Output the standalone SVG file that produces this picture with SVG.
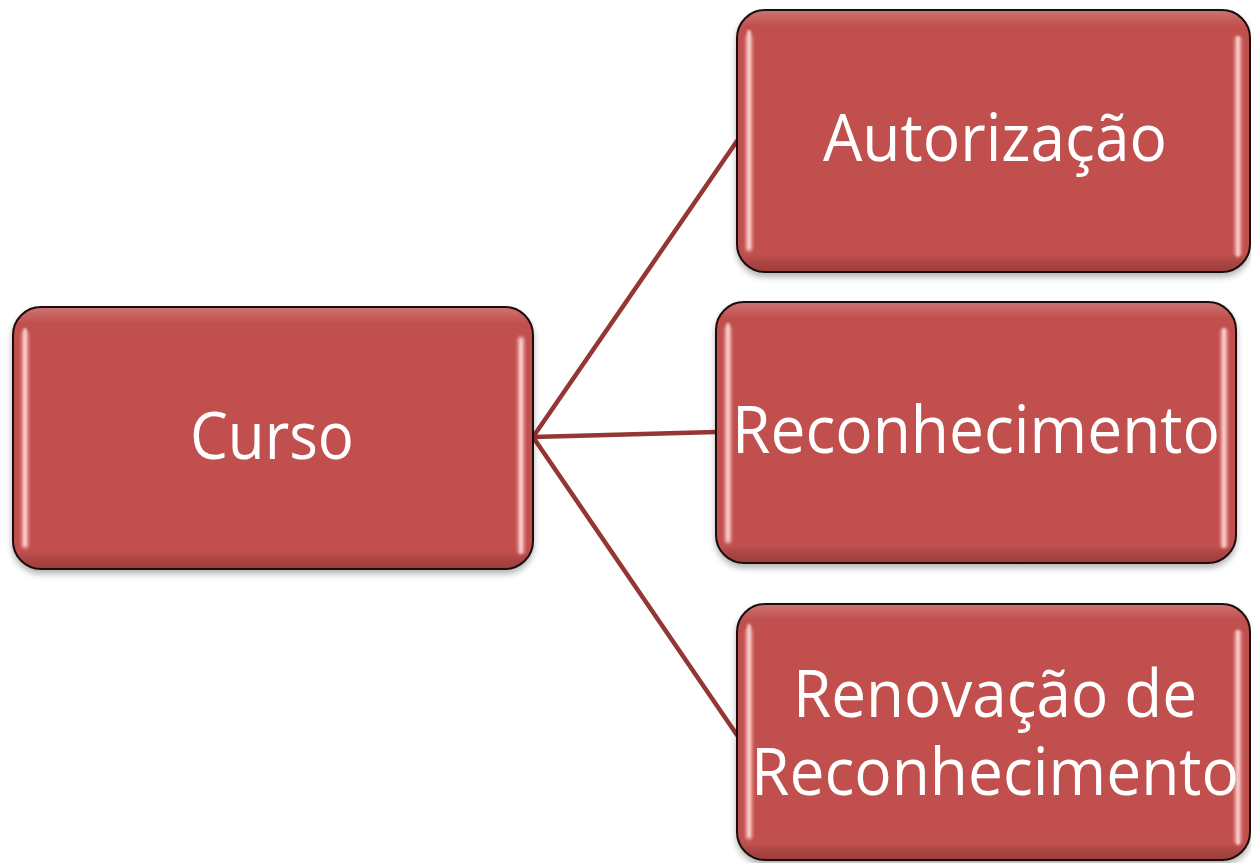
<svg xmlns="http://www.w3.org/2000/svg" width="1251" height="863" viewBox="0 0 1251 863">
<defs>
<style>
.box{fill:#C0504D;stroke:#1a0a0a;stroke-width:2}
.hl{fill:none;stroke:#ffd8d6;stroke-width:4;stroke-linecap:round;opacity:0.85}
.hl2{fill:none;stroke:#e89a98;stroke-width:9;stroke-linecap:round;opacity:0.6}
.lbl{fill:#ffffff;font-family:"Open Sans","Noto Sans",sans-serif;font-size:66px;text-anchor:middle}
.conn{stroke:#943634;stroke-width:4.5;fill:none;stroke-linecap:round}
</style>
<linearGradient id="rim" x1="0" y1="0" x2="0" y2="1">
<stop offset="0" stop-color="#ffffff" stop-opacity="0.2"/>
<stop offset="0.06" stop-color="#ffffff" stop-opacity="0"/>
<stop offset="0.94" stop-color="#000000" stop-opacity="0"/>
<stop offset="1" stop-color="#5a1a18" stop-opacity="0.3"/>
</linearGradient>
<filter id="sh" x="-5%" y="-5%" width="110%" height="115%">
<feGaussianBlur in="SourceAlpha" stdDeviation="3"/>
<feOffset dx="0" dy="4" result="b"/>
<feComponentTransfer><feFuncA type="linear" slope="0.3"/></feComponentTransfer>
<feMerge><feMergeNode/><feMergeNode in="SourceGraphic"/></feMerge>
</filter>
<filter id="blur"><feGaussianBlur stdDeviation="1"/></filter>
</defs>
<rect width="1251" height="863" fill="#ffffff"/>
<g id="connectors">
<line class="conn" x1="533" y1="437" x2="737" y2="141"/>
<line class="conn" x1="533" y1="437" x2="716" y2="432"/>
<line class="conn" x1="533" y1="437" x2="737" y2="735"/>
</g>
<g id="node-curso">
<rect class="box" x="13" y="307" width="520" height="262" rx="28" filter="url(#sh)"/>
<rect x="14" y="308" width="518" height="260" rx="27" fill="url(#rim)"/>
<g filter="url(#blur)">
<path class="hl2" d="M25 335 V545 M521 340 V550"/>
<path class="hl" d="M25 330 V545 M521 340 V552"/>
</g>
<text class="lbl" x="272" y="459" textLength="164" lengthAdjust="spacingAndGlyphs">Curso</text>
</g>
<g id="node-autorizacao">
<rect class="box" x="737" y="10" width="513" height="262" rx="28" filter="url(#sh)"/>
<rect x="738" y="11" width="511" height="260" rx="27" fill="url(#rim)"/>
<g filter="url(#blur)">
<path class="hl2" d="M749 38 V248 M1238 40 V252"/>
<path class="hl" d="M749 32 V248 M1238 38 V255"/>
</g>
<text class="lbl" x="995" y="161" textLength="344" lengthAdjust="spacingAndGlyphs">Autorização</text>
</g>
<g id="node-reconhecimento">
<rect class="box" x="716" y="302" width="520" height="261" rx="28" filter="url(#sh)"/>
<rect x="717" y="303" width="518" height="259" rx="27" fill="url(#rim)"/>
<g filter="url(#blur)">
<path class="hl2" d="M728 330 V540 M1224 332 V544"/>
<path class="hl" d="M728 325 V540 M1224 330 V546"/>
</g>
<text class="lbl" x="976" y="453" textLength="488" lengthAdjust="spacingAndGlyphs">Reconhecimento</text>
</g>
<g id="node-renovacao">
<rect class="box" x="737" y="604" width="513" height="256" rx="28" filter="url(#sh)"/>
<rect x="738" y="605" width="511" height="254" rx="27" fill="url(#rim)"/>
<g filter="url(#blur)">
<path class="hl2" d="M749 632 V836 M1238 634 V840"/>
<path class="hl" d="M749 626 V836 M1238 632 V843"/>
</g>
<text class="lbl" x="995" y="717" textLength="404" lengthAdjust="spacingAndGlyphs">Renovação de</text>
<text class="lbl" x="995" y="795" textLength="488" lengthAdjust="spacingAndGlyphs">Reconhecimento</text>
</g>
</svg>
